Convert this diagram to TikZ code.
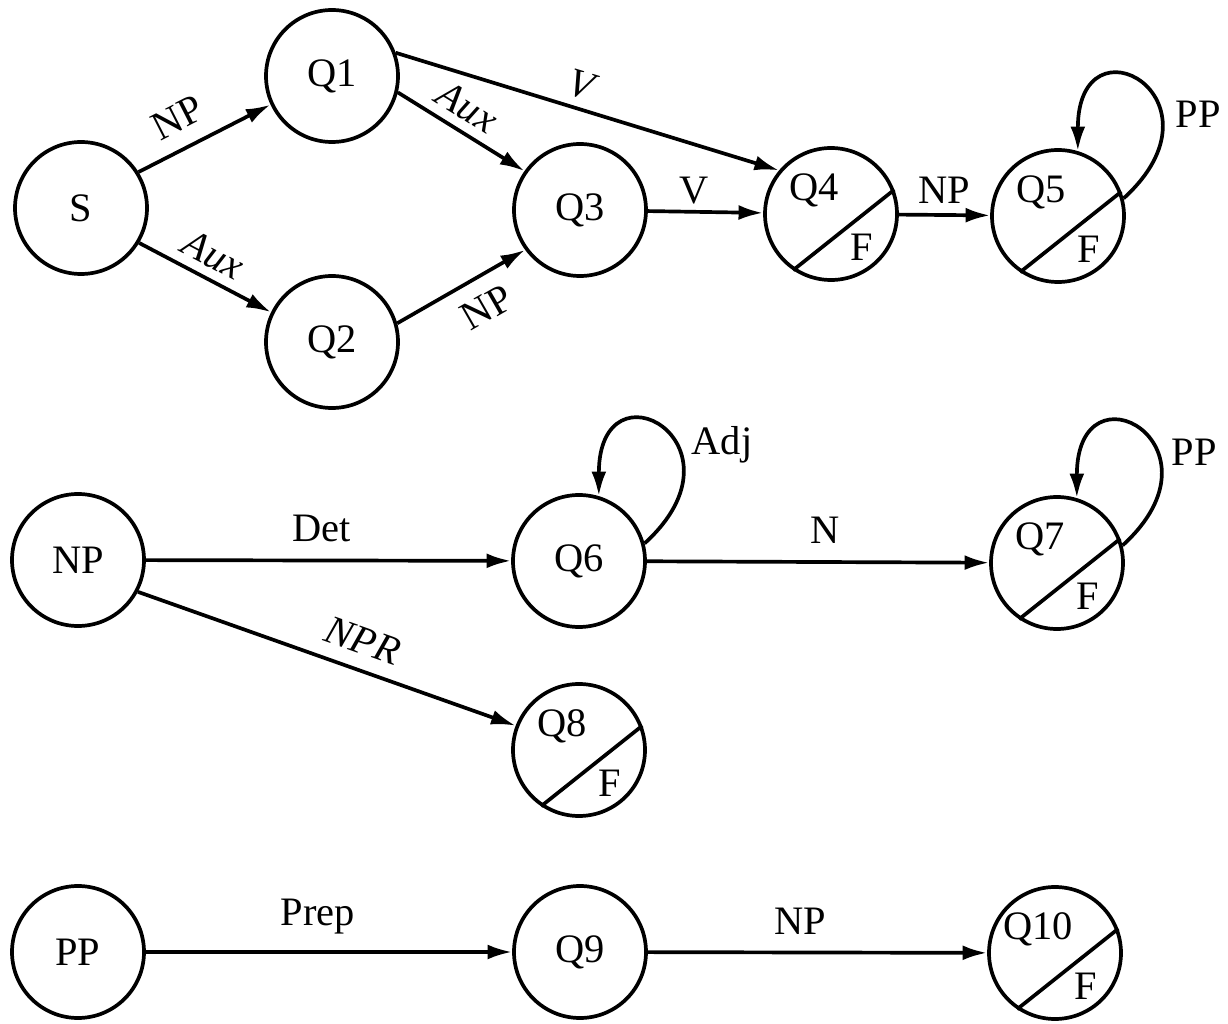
\documentclass[tikz,border=0pt]{standalone}
\usepackage{fontspec}
\setmainfont{Liberation Serif}
\usepackage{tikz}
\usetikzlibrary{arrows.meta}

\begin{document}
\begin{tikzpicture}[
            >={Latex[length=14pt,width=8.5pt]},
            every node/.style={font=\fontsize{23}{27}\selectfont},
            state/.style={circle, draw, line width=2.1pt, minimum size=2.64cm, inner sep=0pt},
            trans/.style={->, line width=2.1pt},
            arclab/.style={sloped, above, inner sep=5pt},
        ]
            \useasboundingbox (0,0) rectangle (24.56,20.46);
            \node [state] (S) at (1.62,16.30) {S};
            \node [state] (Q1) at (6.64,18.94) {Q1};
            \node [state] (Q2) at (6.64,13.62) {Q2};
            \node [state] (Q3) at (11.60,16.26) {Q3};
            \node [state] (Q4) at (16.62,16.18) {};
            \node [state] (Q5) at (21.16,16.14) {};
            \node [state] (NP) at (1.56,9.26) {NP};
            \node [state] (Q6) at (11.58,9.24) {Q6};
            \node [state] (Q7) at (21.14,9.20) {};
            \node [state] (Q8) at (11.58,5.46) {};
            \node [state] (PP) at (1.56,1.42) {PP};
            \node [state] (Q9) at (11.60,1.42) {Q9};
            \node [state] (Q10) at (21.10,1.40) {};
            \foreach \q in {Q4,Q5,Q7,Q8,Q10} {
                \draw [line width=2.1pt] (\q.236) -- (\q.21);
                \node (\q-name) at ([shift={(-0.34,0.48)}]\q.center) {\q};
                \node (\q-F) at ([shift={(0.62,-0.66)}]\q.center) {F};
            }
            \draw [trans] (S.32) -- node [arclab, pos=0.4, inner sep=9pt] {NP} (Q1.205);
            \draw [trans] (S.-31) -- node [arclab, pos=0.48] {\textit{Aux}} (Q2.154);
            \draw [trans] (Q1.-14) -- node [arclab, pos=0.45] {\textit{Aux}} (Q3.145);
            \draw [trans] (Q2.16) -- node [arclab, below, pos=0.58, inner sep=9pt] {NP} (Q3.216);
            \draw [trans] (Q1.20) -- node [arclab, pos=0.47] {\textit{V}} (Q4.140);
            \draw [trans] (Q3) -- node [above, pos=0.4] {V} (Q4);
            \draw [trans] (Q4) -- node [above=2pt] {NP} (Q5);
            \draw [trans] (Q5.15) .. controls +(2.2,2.0) and +(0,2.8) .. (Q5.73);
            \node (Q5-loop) at ([shift={(2.80,2.04)}]Q5.center) {PP};
            \draw [trans] (NP) -- node [above=6pt, pos=0.48] {Det} (Q6);
            \draw [trans] (NP.-28) -- node [arclab, pos=0.57, inner sep=8pt] {\textit{NPR}} (Q8.159);
            \draw [trans] (Q6.15) .. controls +(2.2,2.0) and +(0,2.8) .. (Q6.73);
            \node (Q6-loop) at ([shift={(2.86,2.32)}]Q6.center) {Adj};
            \draw [trans] (Q6) -- node [above=6pt, pos=0.52] {N} (Q7);
            \draw [trans] (Q7.15) .. controls +(2.2,2.0) and +(0,2.8) .. (Q7.73);
            \node (Q7-loop) at ([shift={(2.74,2.22)}]Q7.center) {PP};
            \draw [trans] (PP) -- node [above=6pt, pos=0.47] {Prep} (Q9);
            \draw [trans] (Q9) -- node [above=6pt, pos=0.45] {NP} (Q10);
        \end{tikzpicture}
\end{document}
